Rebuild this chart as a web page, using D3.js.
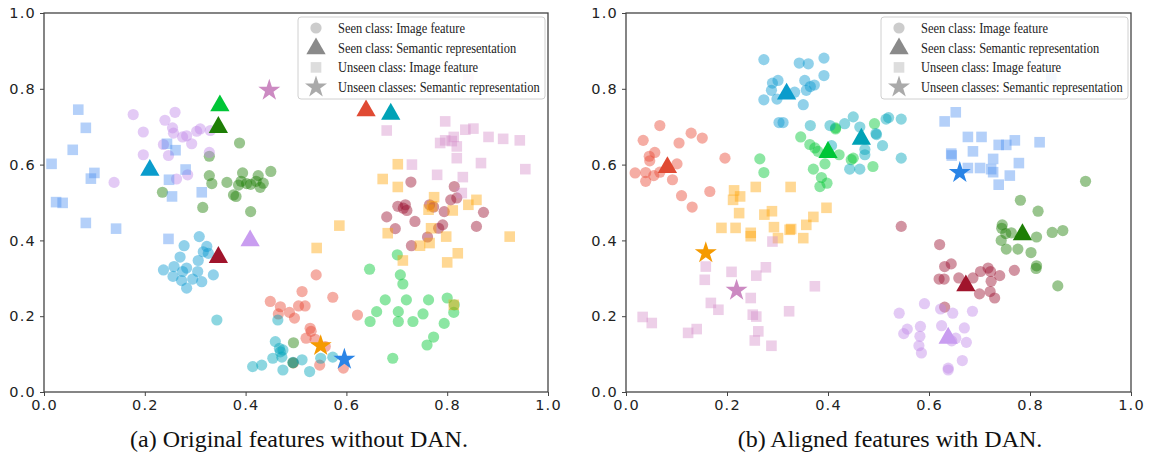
<!DOCTYPE html>
<html lang="en">
<head>
<meta charset="UTF-8">
<title>Original vs aligned features</title>
<script src="https://d3js.org/d3.v7.min.js"></script>
<style>
    body { margin: 0; background: #fff; }
    svg { display: block; }
    .tick text { font-family: "DejaVu Sans", sans-serif; font-size: 14.5px; letter-spacing: 1.2px; fill: #222; }
    .caption { font-family: "Liberation Serif", "Times New Roman", serif; font-size: 24px; fill: #111; }
    .legend-text { font-family: "Liberation Serif", "Times New Roman", serif; font-size: 14.5px; fill: #222; }
</style>
</head>
<body>
<svg id="chart" width="1150" height="458"></svg>
<script>
// ---- data: (a) original features ----
const origSalmon = [[0.540,0.309],[0.512,0.265],[0.449,0.239],[0.469,0.225],[0.505,0.227],[0.518,0.227],[0.573,0.250],[0.465,0.206],[0.487,0.210],[0.497,0.195],[0.622,0.203],[0.528,0.168],[0.530,0.160],[0.520,0.142],[0.538,0.139],[0.558,0.120],[0.547,0.071],[0.594,0.063],[0.495,0.077]];
const origMaroon = [[0.728,0.554],[0.814,0.542],[0.807,0.507],[0.819,0.512],[0.702,0.490],[0.717,0.494],[0.713,0.485],[0.720,0.479],[0.765,0.494],[0.773,0.488],[0.794,0.476],[0.872,0.474],[0.680,0.462],[0.736,0.450],[0.791,0.441],[0.783,0.432],[0.697,0.431],[0.858,0.437],[0.761,0.409],[0.729,0.386]];
const origDarkGreen = [[0.388,0.657],[0.328,0.622],[0.328,0.571],[0.333,0.550],[0.235,0.527],[0.315,0.487],[0.376,0.520],[0.381,0.516],[0.363,0.553],[0.391,0.556],[0.394,0.578],[0.402,0.550],[0.410,0.548],[0.421,0.556],[0.425,0.571],[0.429,0.540],[0.435,0.551],[0.450,0.582],[0.410,0.476],[0.386,0.546],[0.495,0.130],[0.494,0.077]];
const origBrightGreen = [[0.701,0.362],[0.646,0.324],[0.707,0.309],[0.712,0.285],[0.677,0.243],[0.719,0.243],[0.763,0.243],[0.800,0.248],[0.814,0.230],[0.660,0.212],[0.703,0.212],[0.752,0.206],[0.647,0.186],[0.703,0.186],[0.732,0.186],[0.794,0.181],[0.813,0.210],[0.773,0.145],[0.760,0.124],[0.692,0.089]];
const origBlueCyan = [[0.308,0.410],[0.278,0.386],[0.323,0.384],[0.326,0.366],[0.316,0.370],[0.270,0.356],[0.306,0.347],[0.237,0.322],[0.258,0.331],[0.283,0.327],[0.275,0.318],[0.305,0.318],[0.256,0.305],[0.273,0.294],[0.295,0.298],[0.336,0.309],[0.313,0.291],[0.283,0.274]];
const origTeal = [[0.464,0.190],[0.459,0.133],[0.467,0.115],[0.469,0.106],[0.474,0.111],[0.454,0.089],[0.414,0.067],[0.432,0.071],[0.474,0.058],[0.494,0.078],[0.512,0.085],[0.527,0.054],[0.549,0.089],[0.573,0.092],[0.472,0.092],[0.343,0.190]];
const origLavender = [[0.177,0.732],[0.197,0.686],[0.240,0.717],[0.260,0.738],[0.255,0.697],[0.257,0.683],[0.275,0.673],[0.283,0.676],[0.303,0.688],[0.310,0.694],[0.330,0.690],[0.293,0.655],[0.237,0.653],[0.197,0.626],[0.247,0.624],[0.328,0.632],[0.139,0.553],[0.263,0.562],[0.285,0.573]];
const origCornflower = [[0.068,0.745],[0.083,0.697],[0.057,0.639],[0.015,0.602],[0.100,0.578],[0.093,0.563],[0.024,0.501],[0.037,0.499],[0.083,0.446],[0.143,0.431],[0.244,0.655],[0.261,0.638],[0.281,0.587],[0.248,0.560],[0.254,0.516],[0.313,0.527],[0.247,0.404]];
const origOrange = [[0.702,0.601],[0.672,0.562],[0.702,0.541],[0.774,0.514],[0.858,0.507],[0.842,0.494],[0.763,0.481],[0.811,0.479],[0.770,0.490],[0.682,0.419],[0.768,0.432],[0.798,0.410],[0.924,0.410],[0.746,0.386],[0.765,0.393],[0.821,0.366],[0.800,0.342],[0.712,0.347],[0.541,0.380],[0.813,0.230],[0.586,0.439]];
const origPink = [[0.796,0.714],[0.680,0.690],[0.836,0.692],[0.852,0.695],[0.882,0.673],[0.911,0.668],[0.944,0.664],[0.786,0.657],[0.796,0.664],[0.813,0.673],[0.819,0.648],[0.809,0.662],[0.819,0.617],[0.730,0.600],[0.867,0.604],[0.955,0.588],[0.780,0.573],[0.831,0.567],[0.829,0.525],[0.842,0.826]];
// semantic representations, order: salmon, maroon, darkGreen, brightGreen, blueCyan, teal, lavender
const origTriangles = [[0.639,0.745],[0.346,0.358],[0.346,0.701],[0.349,0.758],[0.210,0.588],[0.688,0.736],[0.409,0.402]];
// order: cornflower, orange, pink
const origStars = [[0.596,0.086],[0.549,0.122],[0.447,0.796]];

// ---- data: (b) aligned features ----
const alignSalmon = [[0.067,0.703],[0.034,0.664],[0.057,0.632],[0.046,0.622],[0.047,0.610],[0.105,0.657],[0.129,0.683],[0.151,0.670],[0.196,0.617],[0.018,0.578],[0.039,0.579],[0.039,0.556],[0.055,0.571],[0.101,0.602],[0.092,0.560],[0.067,0.580],[0.110,0.518],[0.166,0.529],[0.131,0.488]];
const alignMaroon = [[0.545,0.437],[0.621,0.389],[0.631,0.331],[0.644,0.338],[0.620,0.298],[0.630,0.298],[0.659,0.301],[0.687,0.301],[0.702,0.318],[0.717,0.327],[0.722,0.318],[0.740,0.307],[0.769,0.321],[0.723,0.292],[0.700,0.259],[0.721,0.265],[0.730,0.248],[0.631,0.224]];
const alignDarkGreen = [[0.910,0.556],[0.781,0.506],[0.816,0.477],[0.745,0.441],[0.744,0.432],[0.763,0.420],[0.752,0.418],[0.743,0.400],[0.753,0.377],[0.776,0.377],[0.813,0.409],[0.844,0.421],[0.865,0.426],[0.802,0.368],[0.813,0.333],[0.812,0.326],[0.855,0.280]];
const alignBrightGreen = [[0.346,0.673],[0.364,0.653],[0.374,0.644],[0.380,0.635],[0.265,0.615],[0.273,0.579],[0.415,0.697],[0.422,0.626],[0.450,0.617],[0.489,0.595],[0.492,0.708],[0.371,0.588],[0.394,0.602],[0.387,0.566],[0.384,0.542],[0.398,0.551],[0.446,0.613],[0.415,0.694]];
const alignBlueCyan = [[0.273,0.877],[0.392,0.881],[0.343,0.868],[0.361,0.866],[0.392,0.835],[0.290,0.815],[0.301,0.822],[0.288,0.796],[0.273,0.771],[0.299,0.773],[0.354,0.822],[0.365,0.806],[0.373,0.810],[0.357,0.796],[0.334,0.791],[0.351,0.758],[0.303,0.711],[0.311,0.711]];
const alignTeal = [[0.365,0.703],[0.404,0.703],[0.433,0.708],[0.450,0.726],[0.463,0.699],[0.515,0.720],[0.545,0.720],[0.495,0.682],[0.508,0.650],[0.473,0.626],[0.443,0.588],[0.463,0.588],[0.545,0.617],[0.407,0.650],[0.496,0.679],[0.473,0.640],[0.520,0.724]];
const alignLavender = [[0.591,0.233],[0.541,0.208],[0.623,0.219],[0.647,0.208],[0.686,0.213],[0.557,0.166],[0.550,0.154],[0.583,0.173],[0.582,0.147],[0.625,0.175],[0.670,0.169],[0.580,0.122],[0.585,0.103],[0.653,0.142],[0.674,0.131],[0.666,0.083],[0.638,0.063],[0.638,0.058],[0.645,0.135]];
const alignCornflower = [[0.653,0.738],[0.631,0.714],[0.677,0.673],[0.704,0.673],[0.687,0.635],[0.738,0.652],[0.753,0.652],[0.770,0.664],[0.819,0.659],[0.644,0.629],[0.645,0.624],[0.727,0.615],[0.778,0.604],[0.677,0.591],[0.701,0.591],[0.723,0.588],[0.727,0.580],[0.760,0.571],[0.738,0.547],[0.842,0.828]];
const alignOrange = [[0.214,0.532],[0.226,0.516],[0.212,0.507],[0.257,0.541],[0.326,0.541],[0.224,0.472],[0.274,0.468],[0.289,0.477],[0.189,0.433],[0.217,0.433],[0.247,0.420],[0.247,0.411],[0.293,0.435],[0.301,0.406],[0.324,0.428],[0.327,0.430],[0.351,0.406],[0.357,0.441],[0.371,0.462],[0.397,0.486]];
const alignPink = [[0.290,0.397],[0.158,0.331],[0.156,0.296],[0.209,0.317],[0.258,0.307],[0.277,0.329],[0.374,0.279],[0.247,0.248],[0.168,0.235],[0.183,0.217],[0.323,0.213],[0.251,0.204],[0.258,0.199],[0.033,0.198],[0.051,0.182],[0.140,0.166],[0.123,0.156],[0.262,0.160],[0.255,0.136],[0.288,0.122]];
const alignTriangles = [[0.082,0.595],[0.673,0.283],[0.785,0.418],[0.400,0.635],[0.318,0.789],[0.466,0.670],[0.638,0.145]];
const alignStars = [[0.661,0.579],[0.158,0.367],[0.219,0.268]];

const tickValues = [0, 0.2, 0.4, 0.6, 0.8, 1.0];
const captions = ["(a) Original features without DAN.", "(b) Aligned features with DAN."];
const legendLabels = ["Seen class: Image feature", "Seen class: Semantic representation",
                      "Unseen class: Image feature", "Unseen classes: Semantic representation"];

// colours
const seenColors = ["#e84a36", "#9c1230", "#1c7e04", "#00c832", "#0a98d0", "#00a3bb", "#c08ae8"];
const seenTriColors = ["#e04a33", "#a0142c", "#1e7e06", "#00c637", "#0a9ccc", "#00a2b6", "#c99df0"];
const unseenColors = ["#4d8ff0", "#ffa200", "#d38cc8"];
const starColors = ["#2a84e6", "#f59a00", "#cc8ac2"];

const svg = d3.select("#chart");

function drawPanel(cfg) {
    const x = d3.scaleLinear().domain([0, 1]).range([cfg.left, cfg.right]);
    const y = d3.scaleLinear().domain([0, 1]).range([392, 13]);
    const g = svg.append("g");

    // frame
    g.append("rect")
        .attr("x", x(0)).attr("y", y(1))
        .attr("width", x(1) - x(0)).attr("height", y(0) - y(1))
        .attr("fill", "none").attr("stroke", "#444").attr("stroke-width", 1.3);

    g.append("g").attr("transform", `translate(0,${y(0)})`)
        .call(d3.axisBottom(x).tickValues(tickValues).tickFormat(d3.format(".1f")).tickSize(4).tickPadding(4))
        .call(a => a.select(".domain").remove())
        .call(a => a.selectAll("line").attr("stroke", "#444"));
    g.append("g").attr("transform", `translate(${x(0)},0)`)
        .call(d3.axisLeft(y).tickValues(tickValues).tickFormat(d3.format(".1f")).tickSize(4).tickPadding(4))
        .call(a => a.select(".domain").remove())
        .call(a => a.selectAll("line").attr("stroke", "#444"));

    const plot = g.append("g");

    // seen class image features (circles)
    cfg.seen.forEach((pts, i) => {
        plot.selectAll(null).data(pts).enter().append("circle")
            .attr("cx", d => x(d[0])).attr("cy", d => y(d[1])).attr("r", 5.6)
            .attr("fill", seenColors[i]).attr("fill-opacity", 0.45);
    });
    // unseen class image features (squares)
    cfg.unseen.forEach((pts, i) => {
        plot.selectAll(null).data(pts).enter().append("rect")
            .attr("x", d => x(d[0]) - 5.3).attr("y", d => y(d[1]) - 5.3)
            .attr("width", 10.6).attr("height", 10.6)
            .attr("fill", unseenColors[i]).attr("fill-opacity", 0.42);
    });
    // seen semantic (triangles)
    const tri = d3.symbol().type(d3.symbolTriangle).size(155);
    plot.selectAll(null).data(cfg.triangles).enter().append("path")
        .attr("d", tri)
        .attr("transform", d => `translate(${x(d[0])},${y(d[1]) + 1}) scale(1.02,1.03)`)
        .attr("fill", (d, i) => seenTriColors[i]);
    // unseen semantic (stars)
    const star = d3.symbol().type(d3.symbolStar).size(150);
    plot.selectAll(null).data(cfg.stars).enter().append("path")
        .attr("d", star)
        .attr("transform", d => `translate(${x(d[0])},${y(d[1])})`)
        .attr("fill", (d, i) => starColors[i]);

    // legend
    const lx = x(1) - 250, ly = y(1) + 4;
    const lg = g.append("g").attr("transform", `translate(${lx},${ly})`);
    lg.append("rect").attr("width", 247).attr("height", 82).attr("rx", 3)
        .attr("fill", "#fff").attr("fill-opacity", 0.85)
        .attr("stroke", "#d0d0d0").attr("stroke-width", 1);
    const rowY = i => 11 + i * 19.7;
    lg.append("circle").attr("cx", 18).attr("cy", rowY(0)).attr("r", 5.6)
        .attr("fill", "#999").attr("fill-opacity", 0.5);
    lg.append("path").attr("d", tri).attr("transform", `translate(18,${rowY(1) + 1}) scale(1.02,1.03)`)
        .attr("fill", "#8a8a8a");
    lg.append("rect").attr("x", 18 - 5.3).attr("y", rowY(2) - 5.3).attr("width", 10.6).attr("height", 10.6)
        .attr("fill", "#bbb").attr("fill-opacity", 0.5);
    lg.append("path").attr("d", star).attr("transform", `translate(18,${rowY(3)})`)
        .attr("fill", "#aaa");
    lg.selectAll("text.legend-text").data(legendLabels).enter().append("text")
        .attr("class", "legend-text")
        .attr("transform", (d, i) => `translate(40,${rowY(i) + 4.8}) scale(0.86,1)`)
        .text(d => d);

    svg.append("text").attr("class", "caption")
        .attr("x", cfg.captionX).attr("y", 447).attr("text-anchor", "middle")
        .text(cfg.caption);
}

drawPanel({
    left: 44, right: 548, captionX: 299, caption: captions[0],
    seen: [origSalmon, origMaroon, origDarkGreen, origBrightGreen, origBlueCyan, origTeal, origLavender],
    unseen: [origCornflower, origOrange, origPink],
    triangles: origTriangles, stars: origStars
});
drawPanel({
    left: 626, right: 1131, captionX: 890, caption: captions[1],
    seen: [alignSalmon, alignMaroon, alignDarkGreen, alignBrightGreen, alignBlueCyan, alignTeal, alignLavender],
    unseen: [alignCornflower, alignOrange, alignPink],
    triangles: alignTriangles, stars: alignStars
});
</script>
</body>
</html>
